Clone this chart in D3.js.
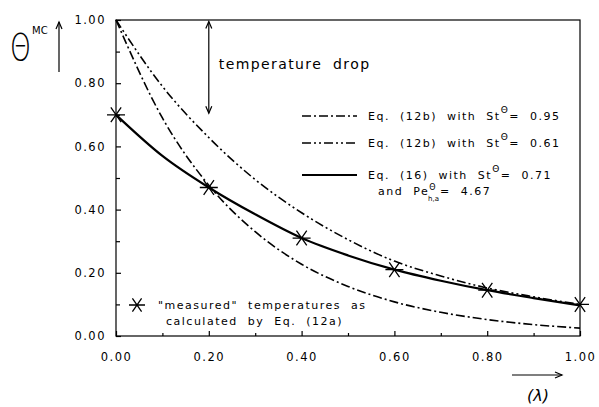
<!DOCTYPE html>
<html>
<head>
<meta charset="utf-8">
<script src="https://cdn.jsdelivr.net/npm/d3@7"></script>
<style>
  body { margin: 0; background: #fff; }
  svg text { font-family: "DejaVu Sans", sans-serif; fill: #000; }
</style>
</head>
<body>
<div class="chart"></div>
<script>
// values
var xVals = [0.0, 0.1, 0.2, 0.3, 0.4, 0.5, 0.6, 0.7, 0.8, 0.9, 1.0];
var eq12b095 = [1.00, 0.69, 0.477, 0.33, 0.227, 0.157, 0.108, 0.075, 0.052, 0.036, 0.025];
var eq12b061 = [1.00, 0.79, 0.628, 0.495, 0.39, 0.305, 0.237, 0.19, 0.152, 0.124, 0.10];
var eq16 = [0.70, 0.57, 0.47, 0.385, 0.31, 0.255, 0.21, 0.175, 0.145, 0.12, 0.097];
var measuredX = [0.0, 0.2, 0.4, 0.6, 0.8, 1.0];
var measuredY = [0.70, 0.47, 0.31, 0.21, 0.145, 0.10];
var majorTicks = [0.0, 0.2, 0.4, 0.6, 0.8, 1.0];
var minorTicks = [0.1, 0.3, 0.5, 0.7, 0.9];

var svgWidth = 599, svgHeight = 407;
var margin = {top: 20, right: 19, bottom: 71, left: 116};
var chartWidth = svgWidth - margin.left - margin.right;
var chartHeight = svgHeight - margin.top - margin.bottom;

var svg = d3.select(".chart").append("svg")
    .attr("width", svgWidth)
    .attr("height", svgHeight);

var chartGroup = svg.append("g")
    .attr("transform", `translate(${margin.left}, ${margin.top})`);

var xScale = d3.scaleLinear().domain([0, 1]).range([0, chartWidth]);
var yScale = d3.scaleLinear().domain([0, 1]).range([chartHeight, 0]);

// frame
chartGroup.append("rect")
    .attr("width", chartWidth).attr("height", chartHeight)
    .attr("fill", "none").attr("stroke", "#000").attr("stroke-width", 1.2);

// axes (ticks point inward)
var yAxis = d3.axisLeft(yScale).tickValues(majorTicks)
    .tickFormat(d3.format(".2f")).tickSizeInner(-5).tickSizeOuter(0).tickPadding(10);
var xAxis = d3.axisBottom(xScale).tickValues(majorTicks)
    .tickFormat(d3.format(".2f")).tickSizeInner(-5).tickSizeOuter(0).tickPadding(17);

var gy = chartGroup.append("g").call(yAxis);
var gx = chartGroup.append("g").attr("transform", `translate(0, ${chartHeight})`).call(xAxis);
chartGroup.append("g").call(d3.axisLeft(yScale).tickValues(minorTicks).tickFormat("").tickSizeInner(-4).tickSizeOuter(0));
chartGroup.append("g").attr("transform", `translate(0, ${chartHeight})`)
    .call(d3.axisBottom(xScale).tickValues(minorTicks).tickFormat("").tickSizeInner(-3).tickSizeOuter(0));

chartGroup.selectAll(".domain").remove();
chartGroup.selectAll(".tick line").attr("stroke", "#000").attr("stroke-width", 1.2);
[gx, gy].forEach(function(g) {
    g.selectAll("text").attr("font-size", 11.5).attr("letter-spacing", 1.5)
        .style("font-family", "DejaVu Sans").attr("fill", "#000");
});

// curves
var line = d3.line()
    .x(function(d) { return xScale(d[0]); })
    .y(function(d) { return yScale(d[1]); })
    .curve(d3.curveMonotoneX);

function pairs(ys) { return xVals.map(function(x, i) { return [x, ys[i]]; }); }

var curves = [
    {data: eq12b095, dash: "9,3,2,3", width: 1.6},
    {data: eq12b061, dash: "9,3,2,3,2,3", width: 1.6},
    {data: eq16, dash: null, width: 2.2}
];
curves.forEach(function(c) {
    chartGroup.append("path")
        .attr("d", line(pairs(c.data)))
        .attr("fill", "none").attr("stroke", "#000")
        .attr("stroke-width", c.width)
        .attr("stroke-dasharray", c.dash);
});

// star markers
function star(g, cx, cy, r) {
    var a = 55 * Math.PI / 180;
    var dx = r * Math.cos(a), dy = r * Math.sin(a);
    g.append("path")
        .attr("d", `M${cx - r},${cy}L${cx + r},${cy}M${cx - dx},${cy - dy}L${cx + dx},${cy + dy}M${cx - dx},${cy + dy}L${cx + dx},${cy - dy}`)
        .attr("stroke", "#000").attr("stroke-width", 1.3).attr("fill", "none");
}
measuredX.forEach(function(x, i) {
    star(chartGroup, xScale(x), yScale(measuredY[i]), 9);
});

// open arrowheads
function arrowHead(g, x, y, dir) {
    var p;
    if (dir === "up") p = `M${x - 3},${y + 7}L${x},${y}L${x + 3},${y + 7}`;
    if (dir === "down") p = `M${x - 3},${y - 7}L${x},${y}L${x + 3},${y - 7}`;
    if (dir === "right") p = `M${x - 7},${y - 3}L${x},${y}L${x - 7},${y + 3}`;
    g.append("path").attr("d", p).attr("stroke", "#000").attr("stroke-width", 1.2).attr("fill", "none");
}

// temperature drop arrow
var dropX = xScale(0.2);
chartGroup.append("line")
    .attr("x1", dropX).attr("x2", dropX)
    .attr("y1", yScale(0.995)).attr("y2", yScale(0.705))
    .attr("stroke", "#000").attr("stroke-width", 1.2);
arrowHead(chartGroup, dropX, yScale(0.995), "up");
arrowHead(chartGroup, dropX, yScale(0.705), "down");
chartGroup.append("text")
    .attr("x", dropX + 10).attr("y", 49)
    .attr("font-size", 14).attr("letter-spacing", 1.4).attr("word-spacing", 5)
    .text("temperature drop");

// legend
var legendLabels = [
    {pre: "Eq. (12b) with St", sup: "\u0398", post: "= 0.95"},
    {pre: "Eq. (12b) with St", sup: "\u0398", post: "= 0.61"},
    {pre: "Eq. (16) with St", sup: "\u0398", post: "= 0.71"}
];
var legendY = [96, 123, 155];
legendLabels.forEach(function(l, i) {
    var y = legendY[i];
    chartGroup.append("line")
        .attr("x1", 186).attr("x2", 241).attr("y1", y).attr("y2", y)
        .attr("stroke", "#000").attr("stroke-width", curves[i].width)
        .attr("stroke-dasharray", curves[i].dash);
    var t = chartGroup.append("text").attr("x", 252).attr("y", y + 4)
        .attr("font-size", 11).attr("letter-spacing", 1.5).attr("word-spacing", 5);
    t.append("tspan").text(l.pre);
    t.append("tspan").attr("dy", -7).attr("font-size", 9).text(l.sup);
    t.append("tspan").attr("dy", 7).text(l.post);
});
var pe = chartGroup.append("text").attr("x", 262).attr("y", 175)
    .attr("font-size", 11).attr("letter-spacing", 1.5).attr("word-spacing", 5);
pe.append("tspan").text("and Pe");
pe.append("tspan").attr("dy", -5).attr("font-size", 8).text("\u0398");
pe.append("tspan").attr("dx", -9).attr("dy", 11).attr("font-size", 7).attr("letter-spacing", 0).text("h,a");
pe.append("tspan").attr("dx", 1).attr("dy", -6).text("= 4.67");

// measured legend
star(chartGroup, 21, 285, 8);
chartGroup.append("text").attr("x", 42).attr("y", 289)
    .attr("font-size", 11).attr("letter-spacing", 1.5).attr("word-spacing", 5)
    .text("\"measured\" temperatures as");
chartGroup.append("text").attr("x", 50).attr("y", 305)
    .attr("font-size", 11).attr("letter-spacing", 1.5).attr("word-spacing", 5)
    .text("calculated by Eq. (12a)");

// y label
svg.append("text")
    .attr("transform", "translate(10,60) scale(0.7,1)")
    .attr("font-size", 38).attr("font-weight", 300).text("\u0398");
svg.append("text").attr("x", 32).attr("y", 34).attr("font-size", 10).text("MC");
svg.append("line").attr("x1", 59).attr("x2", 59).attr("y1", 72).attr("y2", 22)
    .attr("stroke", "#000").attr("stroke-width", 1.2);
arrowHead(svg, 59, 22, "up");

// x label
svg.append("line").attr("x1", 512).attr("x2", 562).attr("y1", 375).attr("y2", 375)
    .attr("stroke", "#000").attr("stroke-width", 1.2);
arrowHead(svg, 562, 375, "right");
svg.append("text").attr("x", 538).attr("y", 401).attr("text-anchor", "middle")
    .attr("font-size", 16).attr("font-style", "italic").text("(\u03bb)");
</script>
</body>
</html>
